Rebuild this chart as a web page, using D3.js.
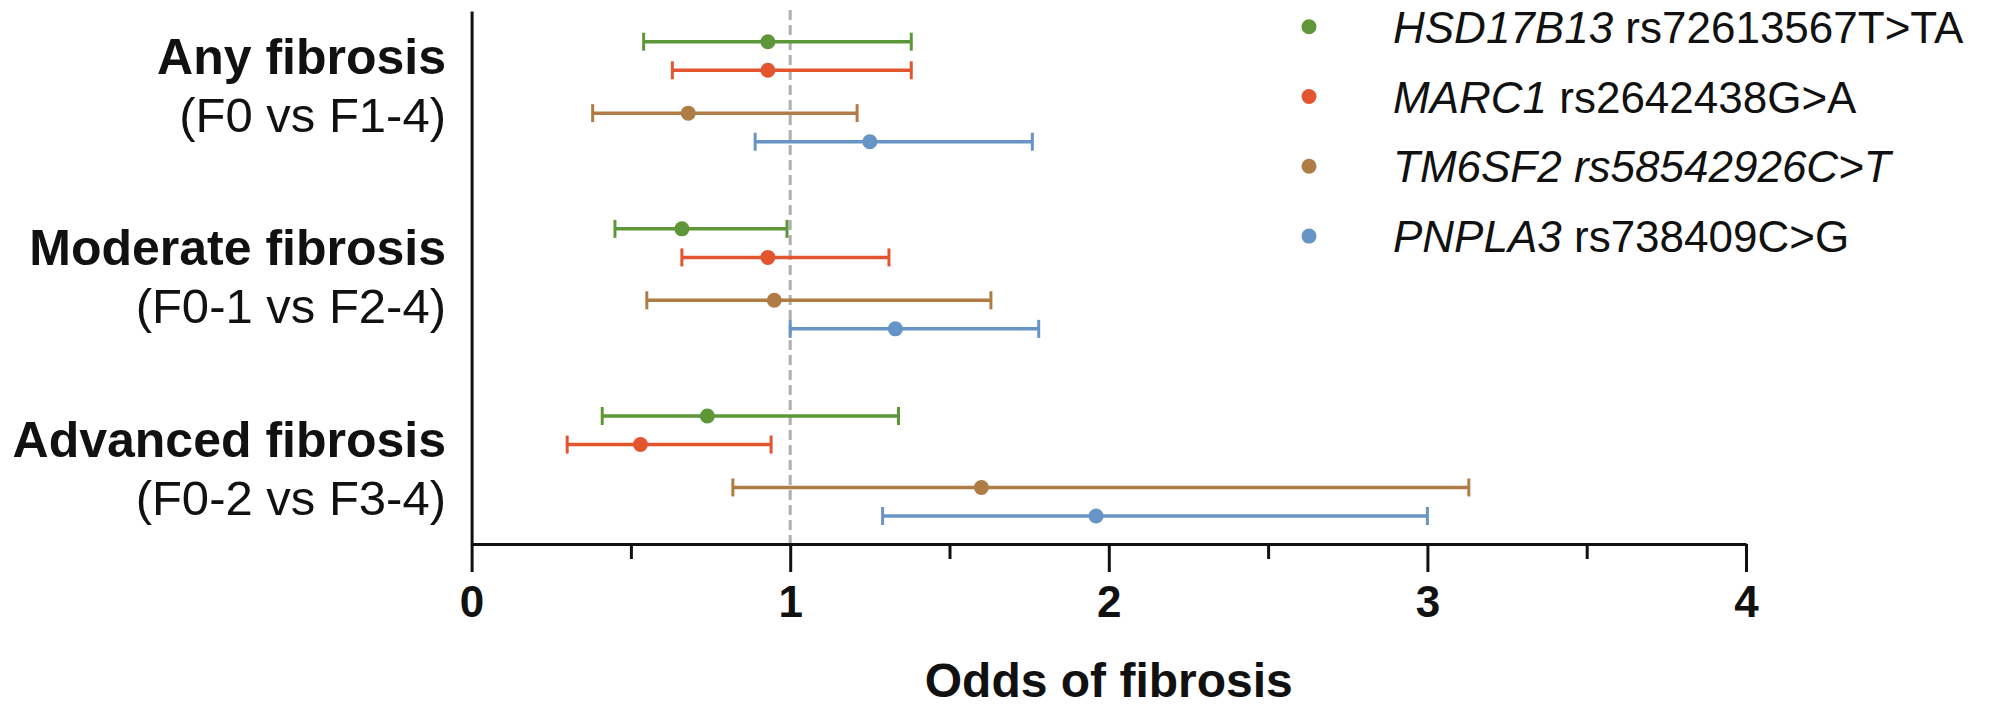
<!DOCTYPE html>
<html>
<head>
<meta charset="utf-8">
<script src="https://cdn.jsdelivr.net/npm/d3@7"></script>
<style>
  body { margin: 0; background: #fff; }
  svg text { font-family: "Liberation Sans", Arial, Helvetica, sans-serif; fill: #111; }
</style>
</head>
<body>
<script>
var groups = ['Any fibrosis', 'Moderate fibrosis', 'Advanced fibrosis'];
var subtitles = ['(F0 vs F1-4)', '(F0-1 vs F2-4)', '(F0-2 vs F3-4)'];

var genes = ['HSD17B13', 'MARC1', 'TM6SF2', 'PNPLA3'];
var variants = ['rs72613567T>TA', 'rs2642438G>A', 'rs58542926C>T', 'rs738409C>G'];
var variant_italic = [false, false, true, false];
var colors = ['#5e9739', '#e2552f', '#b07c45', '#6794c6'];

// odds ratio + 95% CI, one value per group (any, moderate, advanced)
var or_hsd17b13 = [0.93, 0.66, 0.74],
    lo_hsd17b13 = [0.54, 0.45, 0.41],
    hi_hsd17b13 = [1.38, 0.99, 1.34];
var or_marc1 = [0.93, 0.93, 0.53],
    lo_marc1 = [0.63, 0.66, 0.30],
    hi_marc1 = [1.38, 1.31, 0.94];
var or_tm6sf2 = [0.68, 0.95, 1.60],
    lo_tm6sf2 = [0.38, 0.55, 0.82],
    hi_tm6sf2 = [1.21, 1.63, 3.13];
var or_pnpla3 = [1.25, 1.33, 1.96],
    lo_pnpla3 = [0.89, 1.00, 1.29],
    hi_pnpla3 = [1.76, 1.78, 3.00];

var x_ticks = [0, 1, 2, 3, 4];
var x_minor = [0.5, 1.5, 2.5, 3.5];

var w = 1992,
    h = 708;

var series = [
  [or_hsd17b13, lo_hsd17b13, hi_hsd17b13],
  [or_marc1, lo_marc1, hi_marc1],
  [or_tm6sf2, lo_tm6sf2, hi_tm6sf2],
  [or_pnpla3, lo_pnpla3, hi_pnpla3]
];

// row slots inside a group (gap between 2nd and 3rd gene)
var slot = [0, 1, 2.5, 3.5];

var rows = [];
groups.forEach(function(g, gi) {
    genes.forEach(function(gene, si) {
        rows.push({
            group: gi,
            gene: si,
            or: series[si][0][gi],
            lo: series[si][1][gi],
            hi: series[si][2][gi]
        });
    });
});

var svg = d3.select('body')
  .append('svg')
  .attr('width', w)
  .attr('height', h);

var x = d3.scaleLinear()
    .domain([0, 4])
    .range([471.6, 1746]);

var axis_y = 544;

var groupY = d3.scaleLinear()
    .domain([0, 2])
    .range([41.7, 416]);
var slotY = d3.scaleLinear()
    .domain([0, 3.5])
    .range([0, 100]);
var labelY = d3.scaleLinear()
    .domain([0, 2])
    .range([74, 456.7]);

function rowY(d) {
    return groupY(d.group) + slotY(slot[d.gene]);
}

// reference line at OR = 1
svg.append('line')
  .attr('x1', x(1))
  .attr('x2', x(1))
  .attr('y1', 10)
  .attr('y2', axis_y)
  .attr('stroke', '#afafaf')
  .attr('stroke-width', 3)
  .attr('stroke-dasharray', '10,5');

// y axis (no ticks)
var yAxisScale = d3.scaleLinear().domain([0, 1]).range([axis_y, 11]);
svg.append('g')
  .attr('transform', 'translate(' + x(0) + ',0)')
  .call(d3.axisLeft(yAxisScale).tickValues([]).tickSizeOuter(0))
  .call(function(g) { g.select('.domain').attr('stroke', '#111').attr('stroke-width', 3); });

// x axis, minor ticks first
svg.append('g')
  .attr('transform', 'translate(0,' + axis_y + ')')
  .call(d3.axisBottom(x).tickValues(x_minor).tickSize(15).tickSizeOuter(0).tickFormat(''))
  .call(function(g) {
      g.select('.domain').remove();
      g.selectAll('line').attr('stroke', '#111').attr('stroke-width', 3);
  });

var xAxis = svg.append('g')
  .attr('transform', 'translate(0,' + axis_y + ')')
  .call(d3.axisBottom(x).tickValues(x_ticks).tickSize(28).tickSizeOuter(0).tickFormat(d3.format('d')));
xAxis.select('.domain').attr('stroke', '#111').attr('stroke-width', 3);
xAxis.selectAll('line').attr('stroke', '#111').attr('stroke-width', 3);
xAxis.selectAll('text')
  .attr('y', 73)
  .attr('dy', 0)
  .style('font-size', '44px')
  .style('font-weight', 'bold')
  .style('fill', '#111');

svg.append('text')
  .attr('x', (x(0) + x(4)) / 2)
  .attr('y', 697)
  .attr('text-anchor', 'middle')
  .style('font-size', '48px')
  .style('font-weight', 'bold')
  .text('Odds of fibrosis');

// group labels
var labels = svg.append('g');
labels.selectAll('text.title')
  .data(groups)
  .enter()
  .append('text')
  .attr('class', 'title')
  .attr('x', 446)
  .attr('y', function(d, i) { return labelY(i); })
  .attr('text-anchor', 'end')
  .style('font-size', '50px')
  .style('font-weight', 'bold')
  .text(function(d) { return d; });
labels.selectAll('text.sub')
  .data(subtitles)
  .enter()
  .append('text')
  .attr('class', 'sub')
  .attr('x', 446)
  .attr('y', function(d, i) { return labelY(i) + 58; })
  .attr('text-anchor', 'end')
  .style('font-size', '49px')
  .text(function(d) { return d; });

// error bars
var bars = svg.append('g')
  .selectAll('g')
  .data(rows)
  .enter()
  .append('g')
  .attr('stroke', function(d) { return colors[d.gene]; })
  .attr('fill', function(d) { return colors[d.gene]; });

bars.append('line')
  .attr('x1', function(d) { return x(d.lo); })
  .attr('x2', function(d) { return x(d.hi); })
  .attr('y1', rowY)
  .attr('y2', rowY)
  .attr('stroke-width', 3.5);

bars.selectAll('line.cap')
  .data(function(d) { return [{v: d.lo, y: rowY(d)}, {v: d.hi, y: rowY(d)}]; })
  .enter()
  .append('line')
  .attr('class', 'cap')
  .attr('x1', function(d) { return x(d.v); })
  .attr('x2', function(d) { return x(d.v); })
  .attr('y1', function(d) { return d.y - 9; })
  .attr('y2', function(d) { return d.y + 9; })
  .attr('stroke-width', 3);

bars.append('circle')
  .attr('cx', function(d) { return x(d.or); })
  .attr('cy', rowY)
  .attr('r', 7.5)
  .attr('stroke', 'none');

// legend
var legend = svg.append('g')
  .selectAll('g')
  .data(genes)
  .enter()
  .append('g')
  .attr('transform', function(d, i) { return 'translate(0,' + (26.7 + i * 69.8) + ')'; });

legend.append('circle')
  .attr('cx', 1309)
  .attr('cy', 0)
  .attr('r', 7.5)
  .attr('fill', function(d, i) { return colors[i]; });

var lt = legend.append('text')
  .attr('x', 1393)
  .attr('y', 16)
  .style('font-size', '44px');
lt.append('tspan')
  .style('font-style', 'italic')
  .text(function(d) { return d; });
lt.append('tspan')
  .style('font-style', function(d, i) { return variant_italic[i] ? 'italic' : 'normal'; })
  .text(function(d, i) { return ' ' + variants[i]; });
</script>
</body>
</html>
